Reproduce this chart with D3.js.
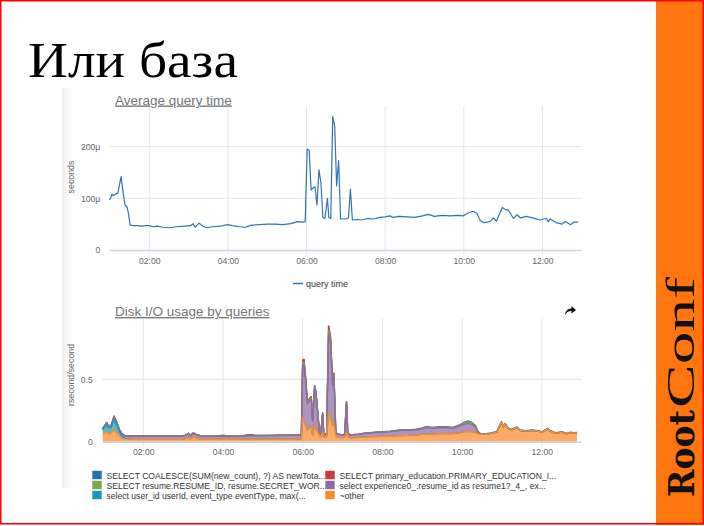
<!DOCTYPE html>
<html><head><meta charset="utf-8">
<script src="https://cdn.jsdelivr.net/npm/d3@7"></script>
<style>
html,body{margin:0;padding:0;background:#fff;}
svg{display:block;}
text{font-family:"Liberation Sans",Arial,sans-serif;}
</style></head>
<body>
<script>
// ---------- DATA ----------
const slideTitle = "Или база";
const topTitle = "Average query time";
const topYLabel = "seconds";
const topSeriesName = "query time";
const topTimes = ["00:59","01:01","01:03","01:05","01:08","01:12","01:17","01:20","01:23","01:26","01:28","01:31","01:36","01:42","01:48","01:54","02:00","02:06","02:12","02:21","02:30","02:42","02:54","03:03","03:07","03:10","03:16","03:22","03:28","03:36","03:48","04:00","04:06","04:18","04:27","04:36","04:48","05:00","05:12","05:24","05:36","05:46","05:54","05:58","06:01","06:04","06:07","06:10","06:13","06:16","06:19","06:22","06:25","06:28","06:32","06:34","06:37","06:40","06:43","06:46","06:49","06:52","07:00","07:04","07:07","07:10","07:18","07:24","07:33","07:42","07:52","08:00","08:07","08:12","08:21","08:33","08:45","08:57","09:06","09:15","09:27","09:39","09:51","09:59","10:06","10:14","10:20","10:25","10:30","10:36","10:41","10:45","10:50","10:54","10:59","11:04","11:08","11:16","11:21","11:27","11:35","11:45","11:56","12:06","12:09","12:12","12:21","12:30","12:35","12:43","12:48","12:55"];
const topValues = [97,100,108,105,108,110,142,112,87,84,72,48,47,47,46,47,47,45,46,44,43,45,46,47,51,44,52,46,43,45,46,49,47,45,44,48,49,50,50,49,51,55,54,55,195,193,116,120,122,87,155,130,63,61,100,63,61,258,240,124,173,60,60,62,118,58,59,58,61,60,63,64,66,63,65,64,63,66,69,65,67,66,67,66,71,75,71,57,53,54,56,62,56,68,82,78,77,61,68,62,65,62,58,61,55,60,53,50,55,49,54,54];
const topYTicks = [0,100,200];

const bottomTitle = "Disk I/O usage by queries";
const bottomYLabel = "rsecond/second";
const bottomYTicks = [0,0.5];
const bottomTimes = ["00:59","01:02","01:05","01:08","01:12","01:16","01:20","01:24","01:28","01:33",
"01:42","01:54","02:06","02:18","02:30","02:42","02:54","03:03","03:08","03:11",
"03:15","03:20","03:27","03:36","03:48","04:00","04:12","04:24","04:36","04:42",
"04:48","05:00","05:12","05:24","05:36","05:48","05:58","06:00","06:02","06:05",
"06:07","06:11","06:13","06:15","06:18","06:20","06:25","06:27","06:30","06:32",
"06:36","06:39","06:42","06:45","06:47","06:50","06:54","07:00","07:03","07:06",
"07:08","07:12","07:24","07:36","07:48","08:00","08:12","08:26","08:39","08:51",
"09:00","09:06","09:15","09:27","09:36","09:46","09:56","10:03","10:09","10:15",
"10:20","10:24","10:29","10:36","10:43","10:52","10:59","11:02","11:05","11:09",
"11:15","11:22","11:27","11:36","11:45","11:54","12:00","12:09","12:13","12:21",
"12:30","12:37","12:43","12:48","12:53"];
// series in legend order (first = top of stack)
const seriesNames = [
  "SELECT COALESCE(SUM(new_count), ?) AS newTota...",
  "SELECT primary_education.PRIMARY_EDUCATION_I...",
  "SELECT resume.RESUME_ID, resume.SECRET_WOR...",
  "select experience0_.resume_id as resume1?_4_, ex...",
  "select user_id userId, event_type eventType, max(...",
  "~other"
];
const seriesColors = ["#1f6fae","#cf3b3b","#79a845","#8d6bab","#199bb6","#ff8a2c"];
const coalesceValues = [0,0,0,0,0,0,0,0,0,0, 0,0,0,0,0,0,0,0,0,0, 0,0,0,0,0,0,0,0,0,0, 0,0,0,0,0,0,0,0,0,0, 0,0,0,0,0,0,0,0,0,0, 0,0,0,0,0,0,0,0,0,0, 0,0,0,0,0,.001,.002,.003,.003,.004, .004,.004,.004,.004,.004,.004,.004,.005,.005,.005, .004,.004,.004,.004,.004,.004,.005,.004,.005,.004, .004,.004,.004,.004,.004,.004,.004,.004,.004,.004, .004,.004,.004,.004,.004];
const primaryValues = [.002,.002,.004,.002,.003,.005,.003,.002,.002,.001, .001,.001,.001,.001,.001,.001,.001,.001,.002,.001, .002,.001,.001,.001,.001,.001,.001,.001,.004,.008, .003,.001,.001,.001,.001,.001,.001,.02,.02,.015, .007,.01,.01,.002,.005,.004,.002,.001,.007,.001, .001,.032,.025,.01,.01,.001,.001,.001,.001,.002, .001,.001,.001,.001,.001,0,0,0,0,0, 0,0,0,0,0,0,0,0,0,0, 0,0,0,0,0,0,0,0,0,0, 0,0,0,0,0,0,0,0,0,0, 0,0,0,0,0];
const resumeValues = [.002,.003,.004,.003,.003,.005,.004,.003,.002,.002, .002,.002,.002,.002,.002,.002,.002,.002,.002,.002, .002,.002,.002,.002,.002,.002,.002,.002,.002,.002, .002,.002,.002,.002,.002,.002,.002,.025,.025,.015, .008,.01,.012,.003,.008,.006,.002,.001,.003,.001, .001,.04,.035,.01,.01,.001,.001,.001,.001,.003, .001,.001,.001,.001,.001,.002,.002,.003,.002,.003, .003,.004,.004,.004,.004,.004,.006,.012,.016,.013, .006,.001,0,0,0,0,0,0,0,0, 0,0,0,0,0,0,0,0,0,0, 0,0,0,0,0];
const experienceValues = [.006,.01,.012,.012,.013,.015,.015,.015,.018,.02, .023,.024,.024,.024,.024,.024,.024,.026,.028,.024, .026,.026,.025,.024,.025,.027,.025,.024,.026,.026, .026,.027,.027,.028,.028,.029,.029,.41,.455,.32, .215,.21,.228,.115,.29,.28,.04,.017,.135,.017, .025,.615,.58,.32,.37,.02,.023,.022,.023,.23, .025,.023,.023,.03,.033,.035,.036,.04,.04,.038, .045,.052,.045,.047,.046,.042,.054,.058,.063,.057, .045,.01,0,0,0,0,0,0,0,0, 0,0,0,0,0,0,0,0,0,0, 0,0,0,0,0];
const userIdValues = [.03,.045,.055,.048,.048,.085,.068,.035,.018,.005, .002,.001,.001,.001,.001,.001,.001,.001,.001,.001, 0,0,0,0,0,0,0,0,0,0, 0,0,0,0,0,0,0,0,0,0, 0,0,0,0,0,0,0,0,0,0, 0,0,0,0,0,0,0,0,0,0, 0,0,0,0,0,0,0,0,0,0, 0,0,0,0,0,0,0,0,0,0, 0,0,0,0,0,0,0,0,0,0, 0,0,0,0,0,0,0,0,0,0, 0,0,0,0,0];
const otherValues = [.065,.07,.08,.06,.068,.095,.07,.045,.025,.02, .018,.018,.018,.018,.018,.018,.018,.02,.035,.02, .04,.03,.018,.018,.018,.02,.018,.018,.02,.02, .02,.02,.021,.021,.022,.022,.022,.2,.16,.13, .09,.12,.11,.05,.147,.11,.05,.035,.085,.035, .04,.24,.2,.13,.16,.045,.035,.03,.035,.085, .04,.03,.035,.038,.04,.042,.045,.048,.05,.055, .058,.06,.062,.065,.066,.065,.07,.08,.082,.08, .075,.065,.058,.061,.066,.076,.155,.12,.142,.106, .095,.116,.09,.084,.09,.084,.076,.103,.084,.066, .076,.063,.073,.068,.071];
const seriesValues = [coalesceValues, primaryValues, resumeValues, experienceValues, userIdValues, otherValues];
const timeDomain = ["00:59","13:00"];
const brandBold = "Root", brandLight = "Conf";

// ---------- DRAW ----------
const W = 704, H = 526;
const parseT = s => { const [h,m] = s.split(":").map(Number); return new Date(Date.UTC(2017,0,1,h,m)); };
const svg = d3.select("body").append("svg").attr("width", W).attr("height", H);
const defs = svg.append("defs");
const grad = defs.append("linearGradient").attr("id","shade").attr("x1",0).attr("x2",1).attr("y1",0).attr("y2",0);
grad.append("stop").attr("offset",0).attr("stop-color","#e6e6e6");
grad.append("stop").attr("offset",1).attr("stop-color","#fff").attr("stop-opacity",0);

svg.append("rect").attr("width",W).attr("height",H).attr("fill","#fff");
// screenshot shading on the left
svg.append("rect").attr("x",62).attr("y",88).attr("width",14).attr("height",400).attr("fill","url(#shade)").attr("opacity",0.8);

// slide title
svg.append("text").attr("x",28).attr("y",77).text(slideTitle)
  .style("font-family","'Liberation Serif','DejaVu Serif',serif").style("font-size","50px").attr("fill","#000")
  .attr("textLength",210).attr("lengthAdjust","spacingAndGlyphs");

// orange band
svg.append("rect").attr("x",656).attr("y",0).attr("width",48).attr("height",525).attr("fill","#ff760e");
// brand text (rotated, reads bottom to top)
const brandG = svg.append("g").attr("transform","translate(694,497) rotate(-90)");
brandG.append("text").attr("x",0).attr("y",0).text(brandBold)
  .style("font-family","'DejaVu Serif',serif").style("font-weight","bold").style("font-size","36px")
  .attr("fill","#111").attr("textLength",87).attr("lengthAdjust","spacingAndGlyphs");
brandG.append("text").attr("x",89).attr("y",0).text(brandLight)
  .style("font-family","'Liberation Serif',serif").style("font-weight","normal").style("font-size","40px")
  .attr("fill","#111").attr("textLength",131).attr("lengthAdjust","spacingAndGlyphs");

// red frame
svg.append("rect").attr("x",0.75).attr("y",0.75).attr("width",702.5).attr("height",523).attr("fill","none").attr("stroke","#ff0000").attr("stroke-width",1.5);

function styleAxis(g){
  g.select(".domain").remove();
  g.selectAll("text").attr("fill","#666").style("font-size","8.6px");
}

// ---------- TOP CHART ----------
{
  const L = 109.3, R = 581.7, T = 106, B = 250;
  const x = d3.scaleUtc().domain(timeDomain.map(parseT)).range([L,R]);
  const y = d3.scaleLinear().domain([0,278.5]).range([B,T]);
  const g = svg.append("g");
  const xt = x.ticks(d3.utcHour.every(2));
  g.selectAll(".vg").data(xt).join("line").attr("x1",d=>x(d)).attr("x2",d=>x(d)).attr("y1",T).attr("y2",B+4).attr("stroke","#e6e6e6").attr("stroke-width",1);
  g.selectAll(".hg").data(topYTicks.filter(d=>d>0)).join("line").attr("x1",L).attr("x2",R).attr("y1",d=>y(d)).attr("y2",d=>y(d)).attr("stroke","#e6e6e6").attr("stroke-width",1);
  g.append("line").attr("x1",L).attr("x2",R).attr("y1",B+0.5).attr("y2",B+0.5).attr("stroke","#ccd6eb").attr("stroke-width",1.5);
  const xa = g.append("g").attr("transform",`translate(0,${B})`)
    .call(d3.axisBottom(x).tickValues(xt).tickFormat(d3.utcFormat("%H:%M")).tickSize(0).tickPadding(8));
  styleAxis(xa);
  const ya = g.append("g").attr("transform",`translate(${L},0)`)
    .call(d3.axisLeft(y).tickValues(topYTicks).tickFormat(d=>d===0?"0":d+"μ").tickSize(0).tickPadding(9));
  styleAxis(ya);
  g.append("text").attr("transform",`translate(74,177) rotate(-90)`).attr("text-anchor","middle").text(topYLabel).attr("fill","#666").style("font-size","8.8px");
  g.append("text").attr("x",115).attr("y",104.5).text(topTitle).attr("fill","#777").style("font-size","13.5px").style("text-decoration","underline");
  const line = d3.line().x((d,i)=>x(parseT(topTimes[i]))).y(d=>y(d));
  g.append("path").datum(topValues).attr("d",line).attr("fill","none").attr("stroke","#2f74b5").attr("stroke-width",1.2).attr("stroke-linejoin","round");
  // legend
  g.append("line").attr("x1",293).attr("x2",303).attr("y1",283.5).attr("y2",283.5).attr("stroke","#2f74b5").attr("stroke-width",1.5);
  g.append("text").attr("x",306).attr("y",286.8).text(topSeriesName).attr("fill","#333").style("font-size","9px");
}

// ---------- BOTTOM CHART ----------
{
  const L = 102.7, R = 581.7, T = 318.3, B = 441.7;
  const x = d3.scaleUtc().domain(timeDomain.map(parseT)).range([L,R]);
  const y = d3.scaleLinear().domain([0,0.989]).range([B,T]);
  const g = svg.append("g");
  const xt = x.ticks(d3.utcHour.every(2));
  g.selectAll(".vg").data(xt).join("line").attr("x1",d=>x(d)).attr("x2",d=>x(d)).attr("y1",T).attr("y2",B+4).attr("stroke","#e6e6e6").attr("stroke-width",1);
  g.selectAll(".hg").data(bottomYTicks.filter(d=>d>0)).join("line").attr("x1",L).attr("x2",R).attr("y1",d=>y(d)).attr("y2",d=>y(d)).attr("stroke","#e8e8e8").attr("stroke-width",1.5);
  const xa = g.append("g").attr("transform",`translate(0,${B})`)
    .call(d3.axisBottom(x).tickValues(xt).tickFormat(d3.utcFormat("%H:%M")).tickSize(0).tickPadding(7));
  styleAxis(xa);
  const ya = g.append("g").attr("transform",`translate(${L},0)`)
    .call(d3.axisLeft(y).tickValues(bottomYTicks).tickFormat(d=>d===0?"0":d3.format(".1f")(d)).tickSize(0).tickPadding(10));
  styleAxis(ya);
  g.append("text").attr("transform",`translate(74,375) rotate(-90)`).attr("text-anchor","middle").text(bottomYLabel).attr("fill","#666").style("font-size","8.8px");
  g.append("text").attr("x",115).attr("y",316).text(bottomTitle).attr("fill","#777").style("font-size","13.5px").style("text-decoration","underline");
  // share arrow icon
  g.append("path").attr("d","M565,315 C565.5,310.5 568,308.5 571.5,308.5 L571.5,306 L576,310 L571.5,313.5 L571.5,311 C568.5,311 566.5,312.5 565,315 Z").attr("fill","#111");

  const n = bottomTimes.length;
  const rows = d3.range(n).map(i => { const o = {t: parseT(bottomTimes[i])}; seriesNames.forEach((s,k)=> o[k] = seriesValues[k][i]); return o; });
  const keys = d3.range(seriesNames.length).reverse(); // "~other" at the bottom
  const stacked = d3.stack().keys(keys)(rows);
  const area = d3.area().x(d=>x(d.data.t)).y0(d=>y(d[0])).y1(d=>y(d[1]));
  const topLine = d3.line().x(d=>x(d.data.t)).y(d=>y(d[1]));
  const byKey = {}; stacked.forEach(s => byKey[s.key] = s);
  const ag = g.append("g");
  d3.range(seriesNames.length).forEach(k => {
    ag.append("path").datum(byKey[k]).attr("d",area).attr("fill",seriesColors[k]).attr("fill-opacity",0.72).attr("stroke","none");
  });
  d3.range(seriesNames.length).forEach(k => {
    ag.append("path").datum(byKey[k]).attr("d",topLine).attr("fill","none").attr("stroke",seriesColors[k]).attr("stroke-width",1.3).attr("stroke-linejoin","round");
  });
  g.append("line").attr("x1",L).attr("x2",R).attr("y1",B+0.5).attr("y2",B+0.5).attr("stroke","#ccd6eb").attr("stroke-width",1.5);

  // legend (2 columns, filled row by row)
  const lg = svg.append("g");
  seriesNames.forEach((name,k) => {
    const col = k % 2, row = Math.floor(k/2);
    const lx = col === 0 ? 92 : 325, ly = 470 + row*10;
    lg.append("rect").attr("x",lx).attr("y",ly+0.5).attr("width",10).attr("height",9).attr("fill",seriesColors[k]).attr("stroke","#fff").attr("stroke-width",0.6);
    lg.append("text").attr("x",lx+14.5).attr("y",ly+8.5).text(name).attr("fill","#333").style("font-size","8.6px");
  });
}
</script>
</body></html>
